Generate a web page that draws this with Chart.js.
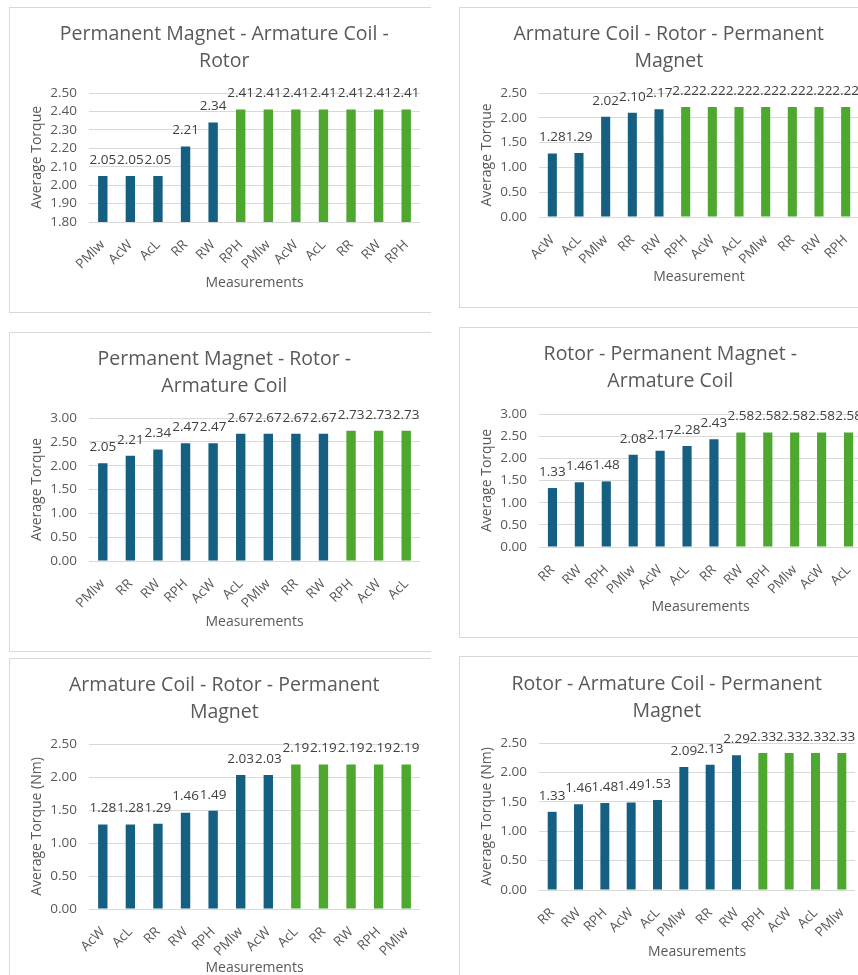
<!DOCTYPE html>
<html>
<head>
<meta charset="utf-8">
<script src="https://cdn.jsdelivr.net/npm/chart.js@4.4.1/dist/chart.umd.min.js"></script>
<style>
  body { margin: 0; width: 858px; height: 975px; overflow: hidden; background: #fff; position: relative; }
  .clip { position: absolute; left: 0; top: 0; width: 431px; height: 975px; overflow: hidden; }
  .panel { position: absolute; border: 1px solid #d9d9d9; background: #fff; }
  canvas { display: block; }
</style>
</head>
<body>
<div class="clip" id="left-col"></div>
<div id="right-col"></div>
<script>
// --- data ---
const pmAcRLabels = ["PMlw", "AcW", "AcL", "RR", "RW", "RPH", "PMlw", "AcW", "AcL", "RR", "RW", "RPH"];
const pmAcRValues = [2.05, 2.05, 2.05, 2.21, 2.34, 2.41, 2.41, 2.41, 2.41, 2.41, 2.41, 2.41];

const acRPmLabels = ["AcW", "AcL", "PMlw", "RR", "RW", "RPH", "AcW", "AcL", "PMlw", "RR", "RW", "RPH"];
const acRPmValues = [1.28, 1.29, 2.02, 2.10, 2.17, 2.22, 2.22, 2.22, 2.22, 2.22, 2.22, 2.22];

const pmRAcLabels = ["PMlw", "RR", "RW", "RPH", "AcW", "AcL", "PMlw", "RR", "RW", "RPH", "AcW", "AcL"];
const pmRAcValues = [2.05, 2.21, 2.34, 2.47, 2.47, 2.67, 2.67, 2.67, 2.67, 2.73, 2.73, 2.73];

const rPmAcLabels = ["RR", "RW", "RPH", "PMlw", "AcW", "AcL", "RR", "RW", "RPH", "PMlw", "AcW", "AcL"];
const rPmAcValues = [1.33, 1.46, 1.48, 2.08, 2.17, 2.28, 2.43, 2.58, 2.58, 2.58, 2.58, 2.58];

const acRPmNmLabels = ["AcW", "AcL", "RR", "RW", "RPH", "PMlw", "AcW", "AcL", "RR", "RW", "RPH", "PMlw"];
const acRPmNmValues = [1.28, 1.28, 1.29, 1.46, 1.49, 2.03, 2.03, 2.19, 2.19, 2.19, 2.19, 2.19];

const rAcPmLabels = ["RR", "RW", "RPH", "AcW", "AcL", "PMlw", "RR", "RW", "RPH", "AcW", "AcL", "PMlw"];
const rAcPmValues = [1.33, 1.46, 1.48, 1.49, 1.53, 2.09, 2.13, 2.29, 2.33, 2.33, 2.33, 2.33];

const chartTitles = [
  ["Permanent Magnet - Armature Coil -", "Rotor"],
  ["Armature Coil - Rotor - Permanent", "Magnet"],
  ["Permanent Magnet - Rotor -", "Armature Coil"],
  ["Rotor - Permanent Magnet -", "Armature Coil"],
  ["Armature Coil - Rotor - Permanent", "Magnet"],
  ["Rotor - Armature Coil - Permanent", "Magnet"],
];
const yAxisTitles = ["Average Torque", "Average Torque", "Average Torque", "Average Torque", "Average Torque (Nm)", "Average Torque (Nm)"];
const xAxisTitles = ["Measurements", "Measurement", "Measurements", "Measurements", "Measurements", "Measurements"];
const yMins = [1.8, 0, 0, 0, 0, 0];
const yMaxs = [2.5, 2.5, 3, 3, 2.5, 2.5];
const ySteps = [0.1, 0.5, 0.5, 0.5, 0.5, 0.5];

const allLabels = [pmAcRLabels, acRPmLabels, pmRAcLabels, rPmAcLabels, acRPmNmLabels, rAcPmLabels];
const allValues = [pmAcRValues, acRPmValues, pmRAcValues, rPmAcValues, acRPmNmValues, rAcPmValues];

// --- page layout (page pixels) ---
const panels = [
  { col: "left-col",  box: [9, 7, 428, 306],   plot: [89, 93, 420, 222],  titleY: 34,  yTitleX: 37,  xTitleY: 283 },
  { col: "right-col", box: [459, 7, 416, 301], plot: [539, 93, 859, 217], titleY: 34,  yTitleX: 487, xTitleY: 277 },
  { col: "left-col",  box: [9, 332, 428, 320], plot: [89, 418, 420, 561], titleY: 359, yTitleX: 37,  xTitleY: 622 },
  { col: "right-col", box: [459, 327, 416, 311], plot: [539, 414, 862, 547], titleY: 354, yTitleX: 487, xTitleY: 607 },
  { col: "left-col",  box: [9, 658, 428, 330], plot: [89, 744, 420, 909], titleY: 685, yTitleX: 37,  xTitleY: 968 },
  { col: "right-col", box: [459, 656, 416, 330], plot: [539, 743, 855, 890], titleY: 684, yTitleX: 487, xTitleY: 952 },
];

const BLUE = "#156082";
const GREEN = "#4ea72e";
const TEXT = "#595959";
const GRID = "#d9d9d9";
const FONT = "'Open Sans', 'Noto Sans', sans-serif";
const TITLE_LH = 27;
const AXIS_TITLE_SIZE = 14;

const barValueLabels = {
  id: "barValueLabels",
  afterDatasetsDraw(chart) {
    const { ctx } = chart;
    const values = chart.data.datasets[0].data;
    ctx.save();
    ctx.font = `13.5px ${FONT}`;
    ctx.fillStyle = "#404040";
    ctx.textAlign = "center";
    ctx.textBaseline = "middle";
    chart.getDatasetMeta(0).data.forEach((bar, i) => {
      ctx.fillText(values[i].toFixed(2), bar.x, bar.y - 16);
    });
    ctx.restore();
  },
};

function buildChart(i) {
  const p = panels[i];
  const [bx, by, bw, bh] = p.box;
  const panel = document.createElement("div");
  panel.className = "panel";
  Object.assign(panel.style, { left: bx + "px", top: by + "px", width: bw - 2 + "px", height: bh - 2 + "px" });
  const canvas = document.createElement("canvas");
  const cw = bw - 2, ch = bh - 2;
  canvas.width = cw;
  canvas.height = ch;
  panel.appendChild(canvas);
  document.getElementById(p.col).appendChild(panel);

  // canvas origin sits inside the 1px border
  const cx = bx + 1, cy = by + 1;
  const left = p.plot[0] - cx, top = p.plot[1] - cy, right = p.plot[2] - cx, bottom = p.plot[3] - cy;
  const axisHalf = (AXIS_TITLE_SIZE * 1.2) / 2;
  const padLeft = p.yTitleX - cx - axisHalf;
  const padBottom = ch - (p.xTitleY - cy) - axisHalf;
  const padTop = p.titleY - cy - TITLE_LH / 2;
  const titleGap = top - padTop - 2 * TITLE_LH;

  const values = allValues[i];
  const maxVal = Math.max(...values);

  new Chart(canvas, {
    type: "bar",
    data: {
      labels: allLabels[i],
      datasets: [{
        data: values,
        backgroundColor: values.map((v) => (v === maxVal ? GREEN : BLUE)),
        barPercentage: 0.34,
        categoryPercentage: 1,
      }],
    },
    options: {
      responsive: false,
      animation: false,
      events: [],
      layout: { padding: { left: padLeft, right: cw - right, top: padTop, bottom: padBottom } },
      plugins: {
        legend: { display: false },
        tooltip: { enabled: false },
        title: {
          display: true,
          text: chartTitles[i],
          color: TEXT,
          font: { family: FONT, size: 19.5, weight: "normal", lineHeight: TITLE_LH + "px" },
          padding: { top: 0, bottom: titleGap },
        },
      },
      scales: {
        x: {
          grid: { display: false },
          border: { display: false },
          ticks: { color: TEXT, font: { family: FONT, size: 13.5 }, minRotation: 45, maxRotation: 45, padding: 7, autoSkip: false },
          title: { display: true, text: xAxisTitles[i], color: TEXT, font: { family: FONT, size: AXIS_TITLE_SIZE }, padding: 0 },
          afterFit: (scale) => { scale.height = ch - padBottom - bottom; },
        },
        y: {
          min: yMins[i],
          max: yMaxs[i],
          grid: { color: GRID, drawTicks: false },
          border: { display: false },
          ticks: {
            stepSize: ySteps[i],
            autoSkip: false,
            color: TEXT,
            padding: 12,
            font: { family: FONT, size: 13.5 },
            callback: (v) => Number(v).toFixed(2),
          },
          title: { display: true, text: yAxisTitles[i], color: TEXT, font: { family: FONT, size: AXIS_TITLE_SIZE }, padding: 0 },
          afterFit: (scale) => { scale.width = left - padLeft; },
        },
      },
    },
    plugins: [barValueLabels],
  });
}

panels.forEach((_, i) => buildChart(i));
</script>
</body>
</html>
